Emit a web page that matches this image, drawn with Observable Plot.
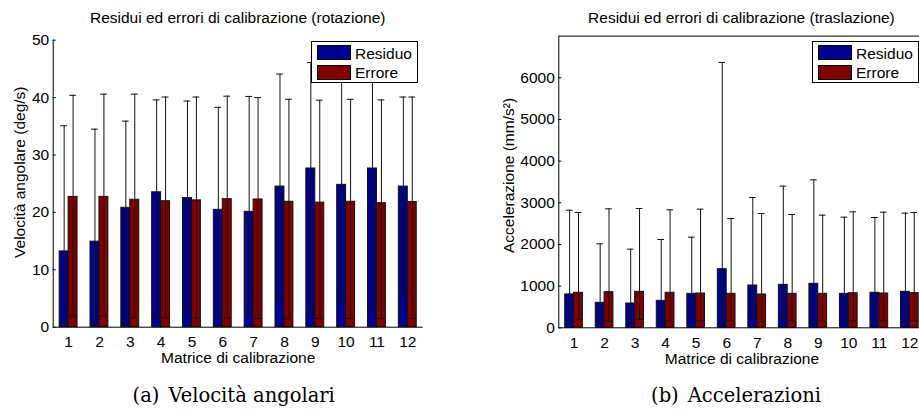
<!DOCTYPE html>
<html>
<head>
<meta charset="utf-8">
<script src="https://cdn.jsdelivr.net/npm/d3@7"></script>
<script src="https://cdn.jsdelivr.net/npm/@observablehq/plot@0.6"></script>
<style>
  body { margin: 0; background: #fff; }
  #page {
    position: relative; width: 919px; height: 412px; overflow: hidden; background: #fff;
    font-family: "Liberation Sans", Arial, sans-serif; color: #000;
  }
  .panel { position: absolute; top: 30px; }
  .panel svg { max-width: none; display: block; }
  .title {
    position: absolute; top: 10px; font-size: 15.5px; line-height: 15.5px;
    text-align: center; white-space: nowrap;
  }
  .caption {
    position: absolute; top: 386px; width: 300px; font-family: "DejaVu Serif", serif;
    font-size: 19.5px; line-height: 19.5px; text-align: center; white-space: nowrap;
  }
  .caption .tag { margin-right: 9px; }
  .legend {
    position: absolute; top: 41px; width: 105px; height: 40px; border: 1px solid #000;
    background: #fff; box-sizing: content-box;
  }
  .legend .sw {
    position: absolute; left: 5px; width: 34px; height: 15px; border: 1px solid #000;
    box-sizing: border-box;
  }
  .legend .lab {
    position: absolute; left: 43px; font-size: 15.5px; line-height: 15.5px; white-space: nowrap;
  }
</style>
</head>
<body>
<div id="page"></div>
<script>
// Calibration matrices (x categories)
const matrici = [1, 2, 3, 4, 5, 6, 7, 8, 9, 10, 11, 12];
const serie = ["Residuo", "Errore"];
const colori = ["#00008f", "#800000"];

// Rotation: angular velocity (deg/s) — bar value, error-bar lower and upper ends
const rotResiduo    = [13.2, 14.9, 20.8, 23.5, 22.5, 20.45, 20.1, 24.5, 27.65, 24.8, 27.65, 24.5];
const rotResiduoMin = [0.95, 0.85, 1.1, 1.5, 3.0, 1.85, 2.2, 4.9, 2.5, 4.3, 3.0, 6.0];
const rotResiduoMax = [35.1, 34.5, 35.9, 39.6, 39.4, 38.3, 40.2, 44.1, 46.1, 45.0, 46.0, 40.1];
const rotErrore     = [22.7, 22.7, 22.2, 21.95, 22.1, 22.3, 22.25, 21.85, 21.7, 21.85, 21.6, 21.8];
const rotErroreMin  = [1.85, 1.9, 1.7, 1.65, 1.6, 1.6, 1.5, 1.5, 1.5, 1.5, 1.5, 1.5];
const rotErroreMax  = [40.4, 40.6, 40.6, 40.1, 40.1, 40.25, 40.0, 39.7, 39.55, 39.7, 39.6, 40.1];
const rotTicks = [0, 10, 20, 30, 40, 50];

// Translation: acceleration (mm/s^2)
const traResiduo    = [800, 600, 583, 647, 815, 1407, 1015, 1031, 1055, 815, 840, 863];
const traResiduoMin = [175, 127, 110, 143, 303, 111, 215, 192, 127, 143, 127, 168];
const traResiduoMax = [2822, 2015, 1887, 2119, 2175, 6367, 3127, 3399, 3551, 2655, 2647, 2751];
const traErrore     = [840, 855, 863, 840, 823, 815, 799, 815, 815, 831, 823, 831];
const traErroreMin  = [192, 168, 199, 168, 168, 168, 143, 168, 168, 168, 168, 168];
const traErroreMax  = [2767, 2855, 2863, 2831, 2847, 2623, 2743, 2719, 2703, 2783, 2775, 2767];
const traTicks = [0, 1000, 2000, 3000, 4000, 5000, 6000];

// Grouped-bar geometry, in x units (one unit per matrix)
const BAR_W = 0.29;
const CAP = 0.11;

function buildRows(res, resMin, resMax, err, errMin, errMax) {
  const rows = [];
  matrici.forEach((m, i) => {
    rows.push({m, serie: serie[0], side: -1, value: res[i], lo: resMin[i], hi: resMax[i]});
    rows.push({m, serie: serie[1], side: 1, value: err[i], lo: errMin[i], hi: errMax[i]});
  });
  return rows;
}

function makeChart({rows, yDomain, yTicks, width, margins, xLabel, yLabel, xLabelDy, yLabelDx, yLabelDy, boxed}) {
  const frameW = width - margins.left - margins.right;
  const xDomain = [0.5, 12.5];
  const cx = d => d.m + d.side * BAR_W / 2;
  const marks = [
    Plot.rectY(rows, {
      x1: d => d.side < 0 ? d.m - BAR_W : d.m,
      x2: d => d.side < 0 ? d.m : d.m + BAR_W,
      y1: 0, y2: "value", fill: "serie", stroke: "#111", strokeWidth: 1
    }),
    Plot.ruleX(rows, {x: cx, y1: "lo", y2: "hi", stroke: "#111", strokeWidth: 1}),
    Plot.ruleY(rows, {y: "hi", x1: d => cx(d) - CAP, x2: d => cx(d) + CAP, stroke: "#111"}),
    Plot.ruleY(rows, {y: "lo", x1: d => cx(d) - CAP, x2: d => cx(d) + CAP, stroke: "#111"}),
    Plot.axisX({ticks: matrici, tickSize: 0, tickPadding: 9, label: null, tickFormat: d => String(d)}),
    Plot.axisY({ticks: yTicks, tickSize: 0, tickPadding: 4, label: null, tickFormat: d => String(d)}),
    // inward tick marks on the y axis
    Plot.tickY(yTicks, {y: d => d, insetRight: frameW - 3, stroke: "#000"}),
    Plot.text([xLabel], {text: d => d, frameAnchor: "bottom", lineAnchor: "top", dy: xLabelDy, fontSize: 15.5}),
    Plot.text([yLabel], {text: d => d, frameAnchor: "left", rotate: -90, textAnchor: "middle",
                         lineAnchor: "bottom", dx: yLabelDx, dy: yLabelDy, fontSize: 15.5})
  ];
  if (boxed) marks.push(Plot.frame({stroke: "#000"}));
  else marks.push(Plot.ruleY([yDomain[0]], {stroke: "#000"}), Plot.ruleX([xDomain[0]], {stroke: "#000"}));
  return Plot.plot({
    width, height: 340,
    marginLeft: margins.left, marginRight: margins.right,
    marginTop: margins.top, marginBottom: margins.bottom,
    x: {domain: xDomain},
    y: {domain: yDomain},
    color: {domain: serie, range: colori},
    style: {fontFamily: "Liberation Sans, Arial, sans-serif", fontSize: "15.5px", color: "#000",
            background: "transparent", overflow: "visible"},
    marks
  });
}

function addPanel(page, {left, width, chart, title, titleLeft, titleWidth, legendLeft, caption, captionCenter}) {
  const panel = document.createElement("div");
  panel.className = "panel";
  panel.style.left = left + "px";
  panel.style.width = width + "px";
  panel.appendChild(chart);
  page.appendChild(panel);

  const t = document.createElement("div");
  t.className = "title";
  t.style.left = titleLeft + "px";
  t.style.width = titleWidth + "px";
  t.textContent = title;
  page.appendChild(t);

  const lg = document.createElement("div");
  lg.className = "legend";
  lg.style.left = legendLeft + "px";
  serie.forEach((s, i) => {
    const sw = document.createElement("div");
    sw.className = "sw";
    sw.style.top = (3 + i * 19.5) + "px";
    sw.style.background = colori[i];
    const lab = document.createElement("div");
    lab.className = "lab";
    lab.style.top = (3.5 + i * 19.5) + "px";
    lab.textContent = s;
    lg.appendChild(sw);
    lg.appendChild(lab);
  });
  page.appendChild(lg);

  const c = document.createElement("div");
  c.className = "caption";
  c.style.left = (captionCenter - 150) + "px";
  const tag = document.createElement("span");
  tag.className = "tag";
  tag.textContent = caption[0];
  c.appendChild(tag);
  c.appendChild(document.createTextNode(caption[1]));
  page.appendChild(c);
}

const page = document.getElementById("page");

const rotChart = makeChart({
  rows: buildRows(rotResiduo, rotResiduoMin, rotResiduoMax, rotErrore, rotErroreMin, rotErroreMax),
  yDomain: [0, 50], yTicks: rotTicks, width: 460,
  margins: {left: 52.7, right: 37.3, top: 9.7, bottom: 43.3},
  xLabel: "Matrice di calibrazione", yLabel: "Velocità angolare (deg/s)",
  xLabelDy: 25, yLabelDx: -28.2, yLabelDy: -11.5, boxed: false
});

const traChart = makeChart({
  rows: buildRows(traResiduo, traResiduoMin, traResiduoMax, traErrore, traErroreMin, traErroreMax),
  yDomain: [0, 7000], yTicks: traTicks, width: 480,
  margins: {left: 98.3, right: 15.4, top: 5.6, bottom: 42.7},
  xLabel: "Matrice di calibrazione", yLabel: "Accelerazione (mm/s²)",
  xLabelDy: 25.4, yLabelDx: -45, yLabelDy: -6.5, boxed: true
});

addPanel(page, {
  left: 0, width: 460, chart: rotChart,
  title: "Residui ed errori di calibrazione (rotazione)", titleLeft: 52.7, titleWidth: 370,
  legendLeft: 311, caption: ["(a)", "Velocità angolari"], captionCenter: 233.7
});
addPanel(page, {
  left: 460, width: 480, chart: traChart,
  title: "Residui ed errori di calibrazione (traslazione)", titleLeft: 558.3, titleWidth: 366.3,
  legendLeft: 812, caption: ["(b)", "Accelerazioni"], captionCenter: 736
});
</script>
</body>
</html>
